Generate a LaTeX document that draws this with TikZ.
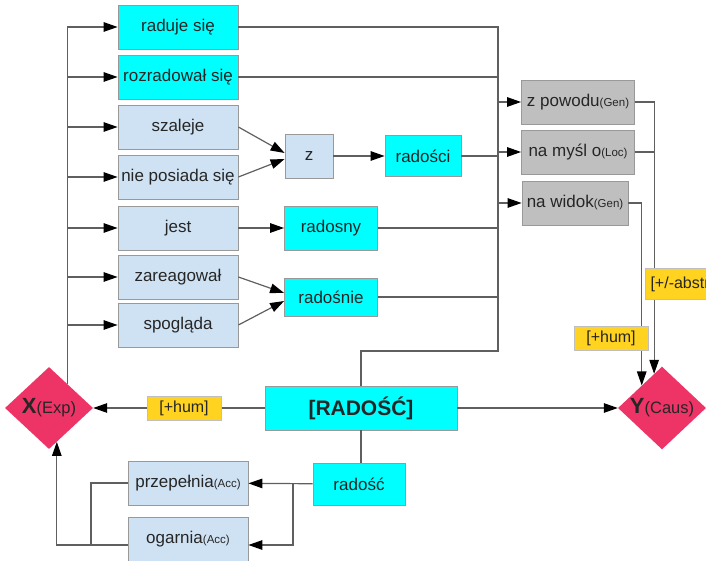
\documentclass[tikz,border=0pt]{standalone}
\usepackage{fontspec}
\setmainfont{Liberation Sans}
\usetikzlibrary{positioning,arrows.meta,shapes.geometric,calc}
\definecolor{aqua}{HTML}{00FFFF}
\definecolor{pale}{HTML}{CFE2F3}
\definecolor{stone}{HTML}{BFBFBF}
\definecolor{gold}{HTML}{FFD320}
\definecolor{rose}{HTML}{EE3366}
\definecolor{wire}{HTML}{5F5F5F}
\tikzset{
  box/.style ={draw=black!40, line width=0.8pt, minimum width=120pt, minimum height=44pt, inner sep=2pt, font=\fontsize{17}{20}\selectfont, text=black!85},
  hot/.style ={box, fill=aqua},
  verb/.style={box, fill=pale},
  prep/.style={box, fill=stone, minimum width=113pt},
  feat/.style={draw=black!25, line width=0.6pt, fill=gold, minimum width=74pt, minimum height=24pt, inner sep=1pt, font=\fontsize{16}{18}\selectfont, text=black!85},
  role/.style={diamond, fill=rose, minimum width=88pt, minimum height=82pt, inner sep=0pt, font=\fontsize{16.5}{19}\selectfont, text=black!85},
  line/.style={draw=wire, line width=1.2pt},
  arr/.style ={line, -{Stealth[length=14pt, width=9.5pt, inset=0pt, color=black]}},
}
\newcommand{\cas}[1]{{\fontsize{11.5}{13}\selectfont(#1)}}
\newcommand{\rolesym}[1]{{\fontsize{22}{24}\selectfont\bfseries #1}}

\begin{document}
\begin{tikzpicture}[x=1pt, y=-1pt]
  \useasboundingbox (0,0) rectangle (706,561);
  % verbs on the left
  \node[hot]  (raduje)   at (178,27)  {raduje się};
  \node[hot]  (rozrad)   at (178,77)  {rozradował się};
  \node[verb] (szaleje)  at (178,127) {szaleje};
  \node[verb] (posiada)  at (178,177) {nie posiada się};
  \node[verb] (jest)     at (178,228) {jest};
  \node[verb] (zareag)   at (178,277) {zareagował};
  \node[verb] (spoglada) at (178,325) {spogląda};
  % middle column
  \node[verb, minimum width=48pt] (z) at (309,156) {z};
  \node[hot, minimum width=76pt, minimum height=41pt] (radosci) at (423,156) {radości};
  \node[hot, minimum width=93pt] (radosny) at (331,228) {radosny};
  \node[hot, minimum width=93pt, minimum height=38pt] (radosnie) at (331,297) {radośnie};
  % prepositions
  \node[prep] (powodu) at (578,102) {z powodu\cas{Gen}};
  \node[prep] (mysl)   at (578,152) {na myśl o\cas{Loc}};
  \node[prep, minimum width=106pt] (widok) at (575,203) {na widok\cas{Gen}};
  % centre and roles
  \node[hot, minimum width=192pt, font=\fontsize{21}{24}\selectfont\bfseries] (RAD) at (361,408) {[RADOŚĆ]};
  \node[role] (X) at (49,408)  {\rolesym{X}(Exp)};
  \node[role] (Y) at (662,408) {\rolesym{Y}(Caus)};
  % below
  \node[hot, minimum width=92pt, minimum height=42pt] (radosc) at (359,484) {radość};
  \node[verb] (przep)   at (188,483) {przepełnia\cas{Acc}};
  \node[verb] (ogarnia) at (188,539) {ogarnia\cas{Acc}};
  \coordinate (rtop)   at (498,27);
  \coordinate (rbot)   at (498,351);
  \coordinate (rsplit) at (293,483);
  \coordinate (lsplit) at (91,545);

  % left trunk from X
  \draw[line] (X.53) -- (X.53 |- raduje);
  \foreach \v in {raduje,rozrad,szaleje,posiada,jest,zareag,spoglada}
    \draw[arr] (X.53 |- \v) -- (\v);
  % into z and radosnie
  \draw[arr] (szaleje.east) -- ([yshift=3pt]z.west);
  \draw[arr] (posiada.east) -- ([yshift=-3pt]z.west);
  \draw[arr] (z) -- (radosci);
  \draw[arr] (jest) -- (radosny);
  \draw[arr] (zareag.east) -- ([yshift=4pt]radosnie.west);
  \draw[arr] (spoglada.east) -- ([yshift=-4pt]radosnie.west);
  % right trunk
  \draw[line] (raduje) -- (rtop) -- (rbot) -| (RAD);
  \foreach \v in {rozrad,radosci,radosny,radosnie}
    \draw[line] (\v) -- (rtop |- \v);
  \foreach \p in {powodu,mysl,widok}
    \draw[arr] (rtop |- \p) -- (\p);
  % prepositions into Y
  \draw[arr] (powodu) -| (Y.103);
  \draw[line] (mysl) -- (mysl -| Y.103);
  \draw[arr] (widok) -| (Y.132);
  % [RADOŚĆ] to the roles
  \draw[arr] (RAD) -- (X);
  \draw[arr] (RAD) -- (Y);
  \draw[line] (RAD.south) -- (RAD.south |- radosc.north);
  % radość to the verbs below
  \draw[arr] (radosc) -- (przep);
  \draw[arr] (rsplit) |- ([yshift=-6pt]ogarnia.east);
  \draw[line] (przep) -| (lsplit);
  \draw[arr] ([yshift=-6pt]ogarnia.west) -| (X.-77);

  % features on the lines
  \node[feat] (humX) at (184,408) {[+hum]};
  \node[feat] (humY) at (611,338) {[+hum]};
  \node[feat, anchor=west, minimum height=31pt] (abstr) at (645,284) {[+/-abstr]};
\end{tikzpicture}
\end{document}
